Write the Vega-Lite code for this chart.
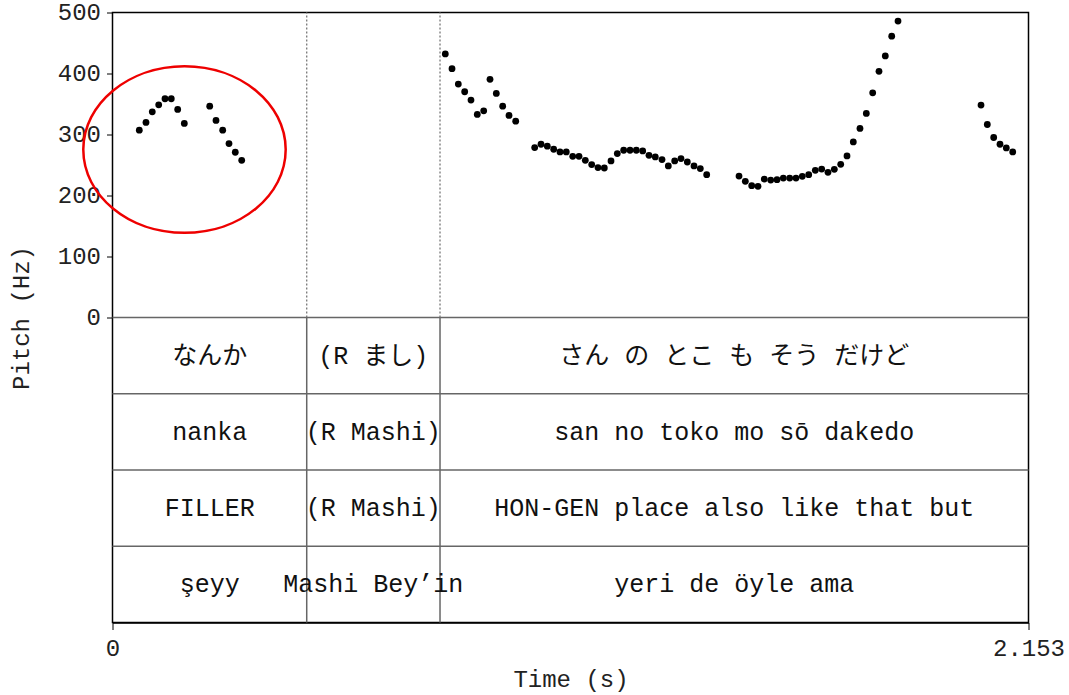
{
  "$schema": "https://vega.github.io/schema/vega-lite/v6.json",
  "autosize": {"type": "none"},
  "padding": {"left": 112.5, "top": 12.5, "right": 40.5, "bottom": 72.5},
  "width": 916,
  "height": 610,
  "background": "white",
  "config": {
    "view": {"stroke": "#000", "strokeWidth": 1.5},
    "font": "Liberation Mono"
  },
  "datasets": {
    "pitch": [
      {"t": 0.0630, "hz": 307.1}, {"t": 0.0787, "hz": 319.7}, {"t": 0.0935, "hz": 337.2}, {"t": 0.1086, "hz": 348.7},
      {"t": 0.1234, "hz": 358.6}, {"t": 0.1382, "hz": 358.6}, {"t": 0.1532, "hz": 341.1}, {"t": 0.1688, "hz": 318.1},
      {"t": 0.2285, "hz": 346.5}, {"t": 0.2433, "hz": 323.0}, {"t": 0.2590, "hz": 307.1}, {"t": 0.2738, "hz": 285.2},
      {"t": 0.2886, "hz": 270.9}, {"t": 0.3037, "hz": 257.7},
      {"t": 0.7822, "hz": 432.1}, {"t": 0.7980, "hz": 407.9}, {"t": 0.8128, "hz": 382.7}, {"t": 0.8278, "hz": 370.1},
      {"t": 0.8426, "hz": 356.4}, {"t": 0.8574, "hz": 332.9}, {"t": 0.8725, "hz": 338.8}, {"t": 0.8873, "hz": 390.5},
      {"t": 0.9021, "hz": 367.4}, {"t": 0.9171, "hz": 346.5}, {"t": 0.9320, "hz": 331.3}, {"t": 0.9477, "hz": 321.9},
      {"t": 0.9923, "hz": 278.6}, {"t": 1.0072, "hz": 284.0}, {"t": 1.0220, "hz": 280.8}, {"t": 1.0370, "hz": 275.8},
      {"t": 1.0518, "hz": 271.4}, {"t": 1.0666, "hz": 271.4}, {"t": 1.0817, "hz": 264.3}, {"t": 1.0965, "hz": 264.3},
      {"t": 1.1113, "hz": 257.7}, {"t": 1.1263, "hz": 250.7}, {"t": 1.1411, "hz": 245.7}, {"t": 1.1560, "hz": 245.1},
      {"t": 1.1717, "hz": 256.6}, {"t": 1.1865, "hz": 268.8}, {"t": 1.2015, "hz": 274.2}, {"t": 1.2164, "hz": 274.2},
      {"t": 1.2312, "hz": 274.2}, {"t": 1.2462, "hz": 273.0}, {"t": 1.2610, "hz": 265.9}, {"t": 1.2758, "hz": 263.2},
      {"t": 1.2916, "hz": 258.9}, {"t": 1.3064, "hz": 248.4}, {"t": 1.3214, "hz": 256.6}, {"t": 1.3362, "hz": 260.5},
      {"t": 1.3511, "hz": 254.9}, {"t": 1.3668, "hz": 248.4}, {"t": 1.3816, "hz": 244.1}, {"t": 1.3966, "hz": 234.2},
      {"t": 1.4726, "hz": 231.9}, {"t": 1.4874, "hz": 223.2}, {"t": 1.5024, "hz": 216.1}, {"t": 1.5172, "hz": 215.0},
      {"t": 1.5320, "hz": 227.0}, {"t": 1.5471, "hz": 225.3}, {"t": 1.5619, "hz": 226.0}, {"t": 1.5767, "hz": 228.6},
      {"t": 1.5917, "hz": 228.6}, {"t": 1.6065, "hz": 228.6}, {"t": 1.6213, "hz": 231.4}, {"t": 1.6364, "hz": 234.2},
      {"t": 1.6519, "hz": 241.3}, {"t": 1.6669, "hz": 243.4}, {"t": 1.6817, "hz": 238.0}, {"t": 1.6966, "hz": 243.0},
      {"t": 1.7116, "hz": 251.2}, {"t": 1.7264, "hz": 264.8}, {"t": 1.7412, "hz": 287.8}, {"t": 1.7569, "hz": 309.9},
      {"t": 1.7718, "hz": 334.5}, {"t": 1.7868, "hz": 368.4}, {"t": 1.8016, "hz": 403.6}, {"t": 1.8164, "hz": 428.8},
      {"t": 1.8315, "hz": 461.2}, {"t": 1.8463, "hz": 485.9},
      {"t": 2.0414, "hz": 348.2}, {"t": 2.0562, "hz": 316.4}, {"t": 2.0712, "hz": 295.1}, {"t": 2.0860, "hz": 284.0},
      {"t": 2.1008, "hz": 278.0}, {"t": 2.1159, "hz": 271.4}
    ],
    "bounds": [{"t": 0.4565}, {"t": 0.7698}],
    "tierlines": [{"y": 0}, {"y": -125}, {"y": -250}, {"y": -375}],
    "labels": [
      {"tier": -62.5, "mid": 0.2283, "label": "なんか"},
      {"tier": -62.5, "mid": 0.6131, "label": "(R まし)"},
      {"tier": -62.5, "mid": 1.4614, "label": "さん の とこ も そう だけど"},
      {"tier": -187.5, "mid": 0.2283, "label": "nanka"},
      {"tier": -187.5, "mid": 0.6131, "label": "(R Mashi)"},
      {"tier": -187.5, "mid": 1.4614, "label": "san no toko mo sō dakedo"},
      {"tier": -312.5, "mid": 0.2283, "label": "FILLER"},
      {"tier": -312.5, "mid": 0.6131, "label": "(R Mashi)"},
      {"tier": -312.5, "mid": 1.4614, "label": "HON-GEN place also like that but"},
      {"tier": -437.5, "mid": 0.2283, "label": "şeyy"},
      {"tier": -437.5, "mid": 0.6131, "label": "Mashi Bey’in"},
      {"tier": -437.5, "mid": 1.4614, "label": "yeri de öyle ama"}
    ],
    "highlight": [{"t": 0.1692, "hz": 275.3}]
  },
  "encoding": {
    "x": {
      "type": "quantitative",
      "scale": {"domain": [0, 2.153], "nice": false, "zero": false},
      "axis": {
        "title": "Time (s)", "values": [0, 2.153], "format": ".4~g", "grid": false, "labelFlush": false,
        "domainColor": "#000", "domainWidth": 1.5, "tickColor": "#000", "tickSize": 7,
        "labelFont": "Liberation Mono", "labelFontSize": 24, "labelColor": "#222", "labelPadding": 7,
        "titleFont": "Liberation Mono", "titleFontSize": 24, "titleFontWeight": "normal", "titleColor": "#222", "titlePadding": 7
      }
    },
    "y": {
      "type": "quantitative",
      "scale": {"domain": [-500, 500], "nice": false, "zero": false},
      "axis": {
        "title": "Pitch (Hz)", "values": [0, 100, 200, 300, 400, 500], "grid": false, "domain": false,
        "tickColor": "#000", "tickSize": 6,
        "labelFont": "Liberation Mono", "labelFontSize": 24, "labelColor": "#222", "labelPadding": 6,
        "titleFont": "Liberation Mono", "titleFontSize": 24, "titleFontWeight": "normal", "titleColor": "#222", "titlePadding": 24
      }
    }
  },
  "layer": [
    {
      "data": {"name": "tierlines"},
      "mark": {"type": "rule", "color": "#666", "strokeWidth": 1.5},
      "encoding": {"y": {"field": "y"}}
    },
    {
      "data": {"name": "bounds"},
      "mark": {"type": "rule", "color": "#777", "strokeWidth": 1.3, "strokeDash": [2, 2]},
      "encoding": {"x": {"field": "t"}, "y": {"datum": 0}, "y2": {"datum": 500}}
    },
    {
      "data": {"name": "bounds"},
      "mark": {"type": "rule", "color": "#666", "strokeWidth": 1.5},
      "encoding": {"x": {"field": "t"}, "y": {"datum": -500}, "y2": {"datum": 0}}
    },
    {
      "data": {"name": "labels"},
      "mark": {"type": "text", "font": "Liberation Mono, Noto Sans CJK JP", "fontSize": 25, "color": "#111", "align": "center", "baseline": "middle"},
      "encoding": {"x": {"field": "mid"}, "y": {"field": "tier"}, "text": {"field": "label"}}
    },
    {
      "data": {"name": "pitch"},
      "mark": {"type": "circle", "size": 46, "color": "#000", "opacity": 1},
      "encoding": {"x": {"field": "t"}, "y": {"field": "hz"}}
    },
    {
      "data": {"name": "highlight"},
      "mark": {"type": "point", "shape": "M-1,0A1,0.823,0,1,1,1,0A1,0.823,0,1,1,-1,0Z", "size": 40966, "filled": false, "stroke": "#ee0000", "strokeWidth": 2.5, "opacity": 1},
      "encoding": {"x": {"field": "t"}, "y": {"field": "hz"}}
    }
  ]
}
